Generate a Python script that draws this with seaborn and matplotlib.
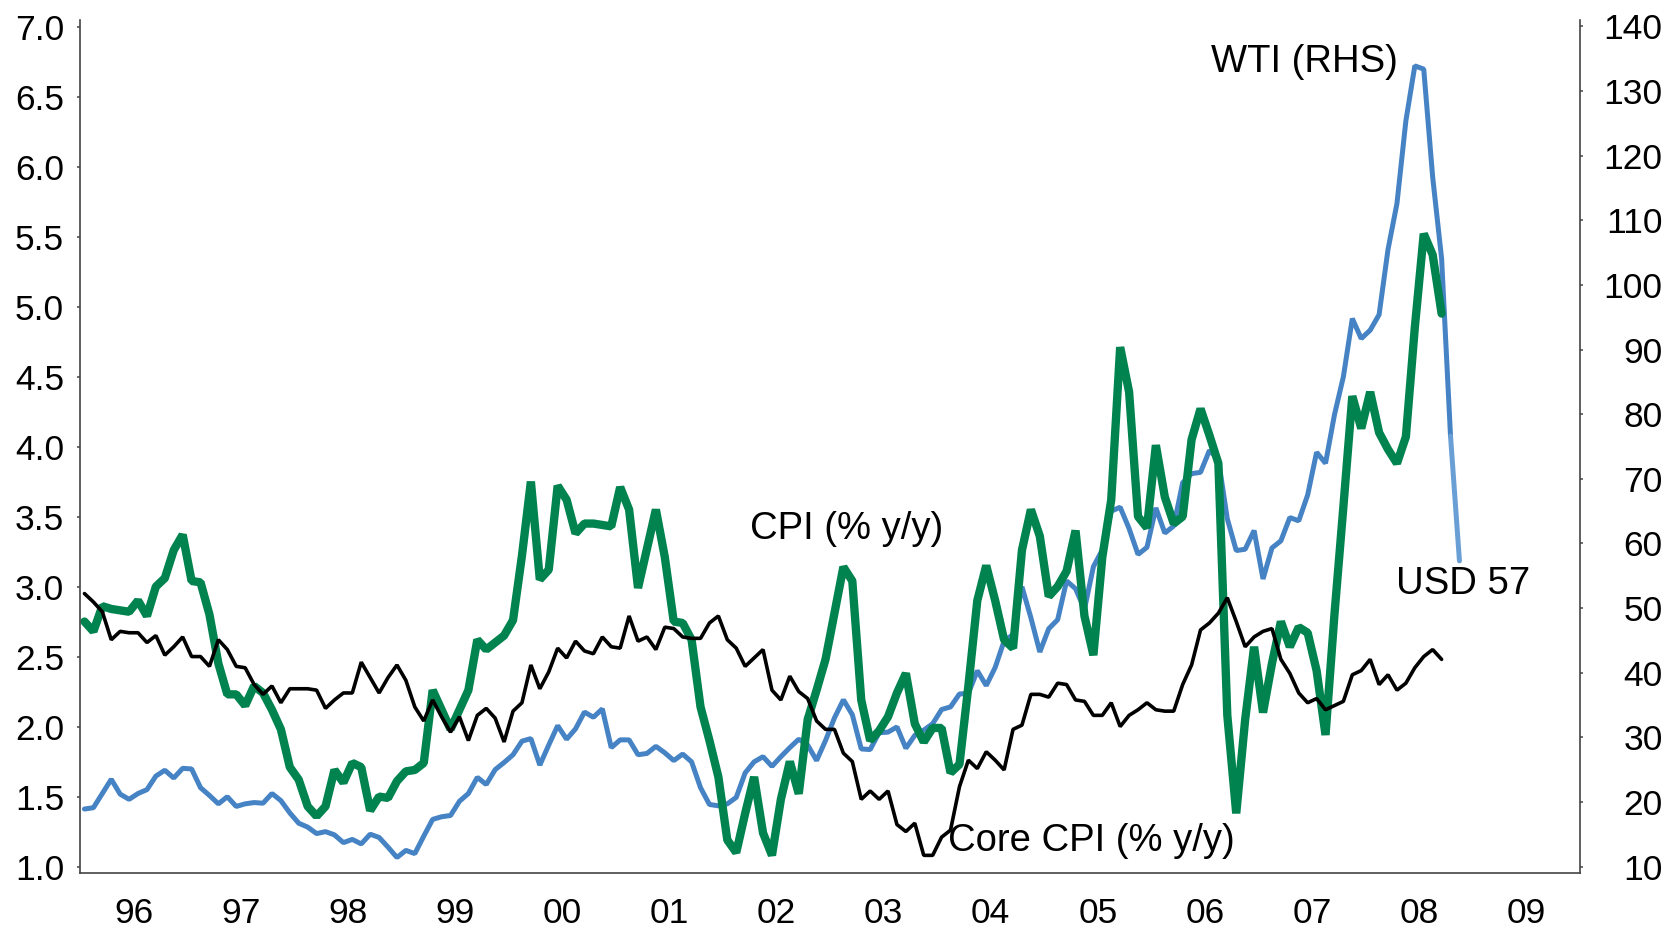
import pandas as pd
import seaborn as sns
import matplotlib.pyplot as plt
from matplotlib.ticker import FixedLocator, FixedFormatter, NullFormatter, FormatStrFormatter

# serie mensili a partire da gennaio 1996
start_month = '1996-01'

# CPI (% y/y), gen 1996 - set 2008
cpi = [
    2.75, 2.68, 2.86, 2.84, 2.83, 2.82, 2.90, 2.79, 3.00, 3.06, 3.26, 3.37,
    3.04, 3.03, 2.80, 2.45, 2.23, 2.23, 2.15, 2.29, 2.24, 2.12, 1.98, 1.71,
    1.62, 1.43, 1.36, 1.43, 1.69, 1.60, 1.74, 1.71, 1.40, 1.50, 1.49, 1.61,
    1.68, 1.69, 1.74, 2.26, 2.12, 1.98, 2.12, 2.26, 2.62, 2.55, 2.60, 2.65,
    2.76, 3.22, 3.75, 3.05, 3.12, 3.72, 3.62, 3.38, 3.45, 3.45, 3.44, 3.43,
    3.71, 3.55, 2.99, 3.27, 3.55, 3.21, 2.75, 2.74, 2.62, 2.14, 1.90, 1.64,
    1.19, 1.10, 1.38, 1.64, 1.24, 1.08, 1.48, 1.75, 1.52, 2.05, 2.26, 2.48,
    2.81, 3.14, 3.04, 2.19, 1.90, 1.97, 2.07, 2.24, 2.38, 2.02, 1.89, 1.99,
    1.99, 1.67, 1.73, 2.29, 2.90, 3.15, 2.90, 2.62, 2.56, 3.26, 3.55, 3.36,
    2.93, 3.00, 3.11, 3.40, 2.79, 2.51, 3.21, 3.62, 4.71, 4.39, 3.50, 3.42,
    4.01, 3.64, 3.45, 3.50, 4.05, 4.27, 4.08, 3.88, 2.08, 1.38, 2.05, 2.57,
    2.10, 2.45, 2.75, 2.57, 2.71, 2.67, 2.40, 1.94, 2.80, 3.57, 4.36, 4.13,
    4.39, 4.10, 3.98, 3.88, 4.07, 4.85, 5.52, 5.37, 4.95,
]

# Core CPI (% y/y), gen 1996 - set 2008
core_cpi = [
    2.95, 2.89, 2.82, 2.62, 2.68, 2.67, 2.67, 2.60, 2.65, 2.51, 2.57, 2.64,
    2.50, 2.50, 2.43, 2.62, 2.55, 2.43, 2.42, 2.30, 2.23, 2.29, 2.17, 2.27,
    2.27, 2.27, 2.26, 2.13, 2.19, 2.24, 2.24, 2.46, 2.35, 2.24, 2.35, 2.44,
    2.33, 2.14, 2.04, 2.19, 2.07, 1.96, 2.07, 1.90, 2.08, 2.13, 2.06, 1.89,
    2.11, 2.17, 2.44, 2.27, 2.39, 2.56, 2.49, 2.61, 2.54, 2.52, 2.64, 2.57,
    2.56, 2.79, 2.61, 2.64, 2.55, 2.71, 2.70, 2.64, 2.63, 2.63, 2.74, 2.79,
    2.62, 2.56, 2.43, 2.49, 2.55, 2.26, 2.19, 2.36, 2.25, 2.20, 2.04, 1.98,
    1.98, 1.81, 1.75, 1.48, 1.54, 1.48, 1.54, 1.30, 1.25, 1.31, 1.08, 1.08,
    1.21, 1.26, 1.57, 1.76, 1.70, 1.82, 1.76, 1.69, 1.98, 2.01, 2.23, 2.23,
    2.21, 2.31, 2.30, 2.19, 2.18, 2.08, 2.08, 2.17, 2.00, 2.08, 2.12, 2.17,
    2.12, 2.11, 2.11, 2.30, 2.44, 2.69, 2.74, 2.81, 2.92, 2.75, 2.57, 2.64,
    2.68, 2.70, 2.48, 2.38, 2.24, 2.17, 2.20, 2.12, 2.15, 2.18, 2.37, 2.40,
    2.48, 2.30, 2.37, 2.26, 2.31, 2.42, 2.50, 2.55, 2.48,
]

# WTI (USD/bbl), gen 1996 - nov 2008
wti = [
    18.9, 19.1, 21.3, 23.5, 21.2, 20.4, 21.3, 21.9, 24.0, 24.9, 23.7, 25.2,
    25.1, 22.2, 21.0, 19.7, 20.8, 19.3, 19.7, 19.9, 19.8, 21.3, 20.2, 18.3,
    16.7, 16.1, 15.1, 15.4, 14.9, 13.7, 14.2, 13.5, 15.0, 14.5, 13.0, 11.4,
    12.5, 12.0, 14.7, 17.3, 17.7, 17.9, 20.1, 21.3, 23.8, 22.7, 25.0, 26.1,
    27.3, 29.4, 29.8, 25.7, 28.8, 31.8, 29.7, 31.3, 33.9, 33.1, 34.4, 28.4,
    29.6, 29.6, 27.3, 27.5, 28.6, 27.6, 26.4, 27.4, 26.2, 22.2, 19.6, 19.4,
    19.7, 20.7, 24.5, 26.2, 27.0, 25.5, 27.0, 28.4, 29.7, 28.8, 26.4, 29.5,
    33.0, 35.8, 33.5, 28.2, 28.1, 30.7, 30.8, 31.6, 28.3, 30.3, 31.1, 32.1,
    34.3, 34.7, 36.7, 36.8, 40.3, 38.0, 40.8, 44.9, 45.9, 53.3, 48.5, 43.2,
    46.8, 48.2, 54.2, 53.0, 49.8, 56.4, 59.0, 65.0, 65.6, 62.3, 58.3, 59.4,
    65.5, 61.6, 62.7, 69.4, 70.8, 71.0, 74.4, 73.0, 63.8, 58.9, 59.1, 62.0,
    54.5, 59.3, 60.4, 64.0, 63.5, 67.5, 74.1, 72.4, 79.9, 85.8, 94.8, 91.7,
    93.0, 95.4, 105.5, 112.6, 125.4, 133.9, 133.4, 116.7, 104.1, 76.6, 57.3,
]

year_labels = ['96', '97', '98', '99', '00', '01', '02', '03', '04', '05', '06', '07', '08', '09']
first_year = 1996
left_ticks = [1.0, 1.5, 2.0, 2.5, 3.0, 3.5, 4.0, 4.5, 5.0, 5.5, 6.0, 6.5, 7.0]
right_ticks = [10, 20, 30, 40, 50, 60, 70, 80, 90, 100, 110, 120, 130, 140]


def month_axis(n):
    # anno decimale a meta' mese
    d = pd.date_range(start_month, periods=n, freq='MS')
    return d.year + (d.month - 0.5) / 12


df_cpi = pd.DataFrame({'t': month_axis(len(cpi)), 'v': cpi})
df_core = pd.DataFrame({'t': month_axis(len(core_cpi)), 'v': core_cpi})
df_wti = pd.DataFrame({'t': month_axis(len(wti)), 'v': wti})

sns.set_style('white')
plt.rcParams['font.family'] = ['Liberation Sans', 'DejaVu Sans']
plt.rcParams['text.color'] = 'black'

green = '#00834E'
blue = '#4683C4'
light_blue = '#6A9FD6'
axis_col = '#444444'
fs = 25.5

fig, ax1 = plt.subplots(figsize=(16.7, 9.3), dpi=100)
fig.subplots_adjust(left=0.0479, right=0.9461, bottom=0.0613, top=0.9785)
ax2 = ax1.twinx()

# WTI sull'asse destro, ultimo tratto piu' chiaro
sns.lineplot(data=df_wti.iloc[:-1], x='t', y='v', ax=ax2, color=blue, linewidth=3.6)
sns.lineplot(data=df_wti.iloc[-2:], x='t', y='v', ax=ax2, color=light_blue, linewidth=3.6)
sns.lineplot(data=df_cpi, x='t', y='v', ax=ax1, color=green, linewidth=6.0)
sns.lineplot(data=df_core, x='t', y='v', ax=ax1, color='black', linewidth=2.6)
for ln in ax1.lines + ax2.lines:
    ln.set_solid_joinstyle('bevel')

# asse sinistro sopra quello destro
ax1.set_zorder(ax2.get_zorder() + 1)
ax1.patch.set_visible(False)

ax1.set_xlim(first_year, first_year + len(year_labels))
ax1.set_ylim(0.954, 7.047)
ax2.set_ylim(9.0, 141.0)

years = list(range(first_year, first_year + len(year_labels) + 1))
ax1.xaxis.set_major_locator(FixedLocator(years))
ax1.xaxis.set_major_formatter(NullFormatter())
ax1.xaxis.set_minor_locator(FixedLocator([y + 0.5 for y in years[:-1]]))
ax1.xaxis.set_minor_formatter(FixedFormatter(year_labels))
ax1.tick_params(axis='x', which='major', direction='out', length=5, width=1.1, color=axis_col)
ax1.tick_params(axis='x', which='minor', length=0, pad=17, labelsize=fs, labelcolor='black')

ax1.yaxis.set_major_locator(FixedLocator(left_ticks))
ax1.yaxis.set_major_formatter(FormatStrFormatter('%.1f'))
ax1.tick_params(axis='y', direction='out', length=2.5, width=1.1, color=axis_col, pad=9,
                labelsize=fs, labelcolor='black')

ax2.yaxis.set_major_locator(FixedLocator(right_ticks))
ax2.tick_params(axis='y', direction='out', length=2.5, width=1.1, color=axis_col, pad=57,
                labelsize=fs, labelcolor='black')
plt.setp(ax2.get_yticklabels(), ha='right')

for ax in (ax1, ax2):
    ax.set_xlabel('')
    ax.set_ylabel('')
    ax.spines['top'].set_visible(False)
    for s in ax.spines.values():
        s.set_color(axis_col)
        s.set_linewidth(1.2)
ax1.spines['right'].set_visible(False)
ax2.spines['left'].set_visible(False)
ax2.spines['bottom'].set_visible(False)

# etichette delle serie
ax1.text(2006.56, 6.75, 'WTI (RHS)', fontsize=27.5, va='center')
ax1.text(2002.25, 3.41, 'CPI (% y/y)', fontsize=27.5, va='center')
ax1.text(2004.10, 1.18, 'Core CPI (% y/y)', fontsize=27.5, va='center')
ax1.text(2008.28, 3.02, 'USD 57', fontsize=27.5, va='center')

fig.savefig('out.png', dpi=100)
